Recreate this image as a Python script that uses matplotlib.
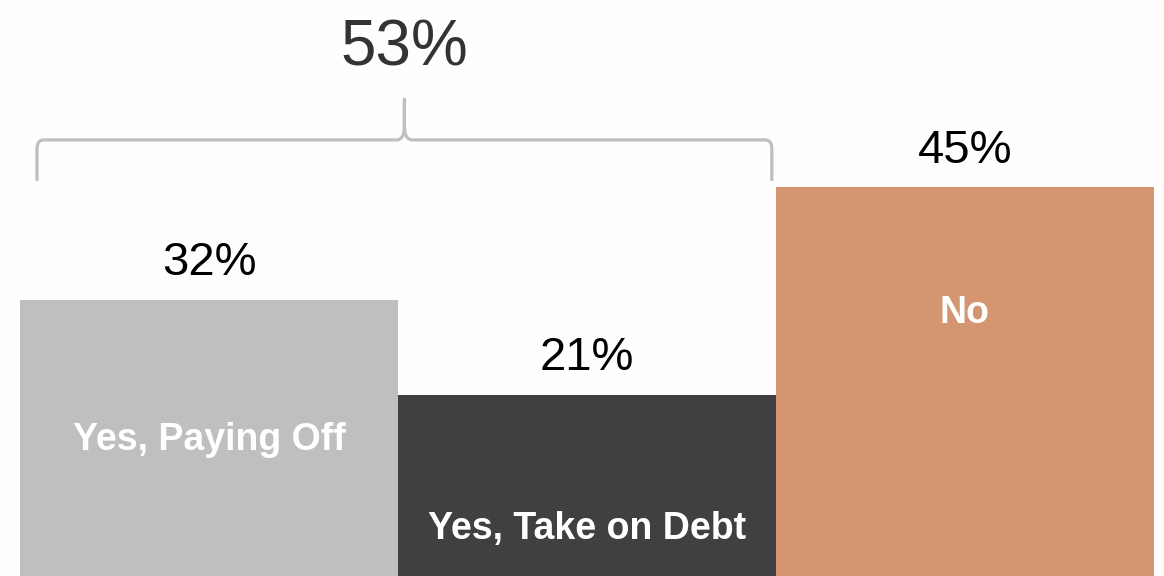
import matplotlib.pyplot as plt
from matplotlib.path import Path
from matplotlib.patches import PathPatch

plt.rcParams['font.family'] = ['Liberation Sans', 'DejaVu Sans']

categories = ['Yes, Paying Off', 'Yes, Take on Debt', 'No']
values = [32, 21, 45]
total_yes = 53
colors = ['#BFBFBF', '#404040', '#D39670']
# where the inside labels sit (data units)
label_y = [15.8, 5.5, 30.5]

bg = '#FFFDFD'
fig = plt.figure(figsize=(11.64, 5.76), dpi=100, facecolor=bg)
ax = fig.add_axes([20 / 1164, 0, 1134 / 1164, 1])
ax.set_facecolor(bg)

xs = range(len(values))
ax.bar(xs, values, width=1.0, align='edge', color=colors)

for i, v in enumerate(values):
    ax.text(i + 0.5, v + 4.2, f'{v}%', ha='center', va='center',
            fontsize=34, color='black')
    ax.text(i + 0.5, label_y[i], categories[i], ha='center', va='center',
            fontsize=27, fontweight='bold', color='white')

# bracket over the two "yes" bars
xl, xr = 0.045, 1.989
xm = (xl + xr) / 2
yb, yh, yt = 45.9, 50.5, 55.2
rx, ry = 0.018, 1.0
sx, sy = 0.02, 1.6
verts = [
    (xl, yb), (xl, yh - ry), (xl, yh), (xl + rx, yh),
    (xm - sx, yh), (xm, yh), (xm, yh + sy), (xm, yt),
    (xm, yh + sy), (xm, yh), (xm + sx, yh),
    (xr - rx, yh), (xr, yh), (xr, yh - ry), (xr, yb),
]
codes = [
    Path.MOVETO, Path.LINETO, Path.CURVE3, Path.CURVE3,
    Path.LINETO, Path.CURVE3, Path.CURVE3, Path.LINETO,
    Path.LINETO, Path.CURVE3, Path.CURVE3,
    Path.LINETO, Path.CURVE3, Path.CURVE3, Path.LINETO,
]
ax.add_patch(PathPatch(Path(verts, codes), fill=False, edgecolor='#BFBFBF',
                       lw=2.3, capstyle='round', joinstyle='round'))
ax.text(xm, yt + 5.9, f'{total_yes}%', ha='center', va='center',
        fontsize=46, color='#333333')

ax.set_xlim(0, 3)
ax.set_ylim(0, 66.7)
ax.axis('off')

fig.savefig('out.png', dpi=100, facecolor=bg)
